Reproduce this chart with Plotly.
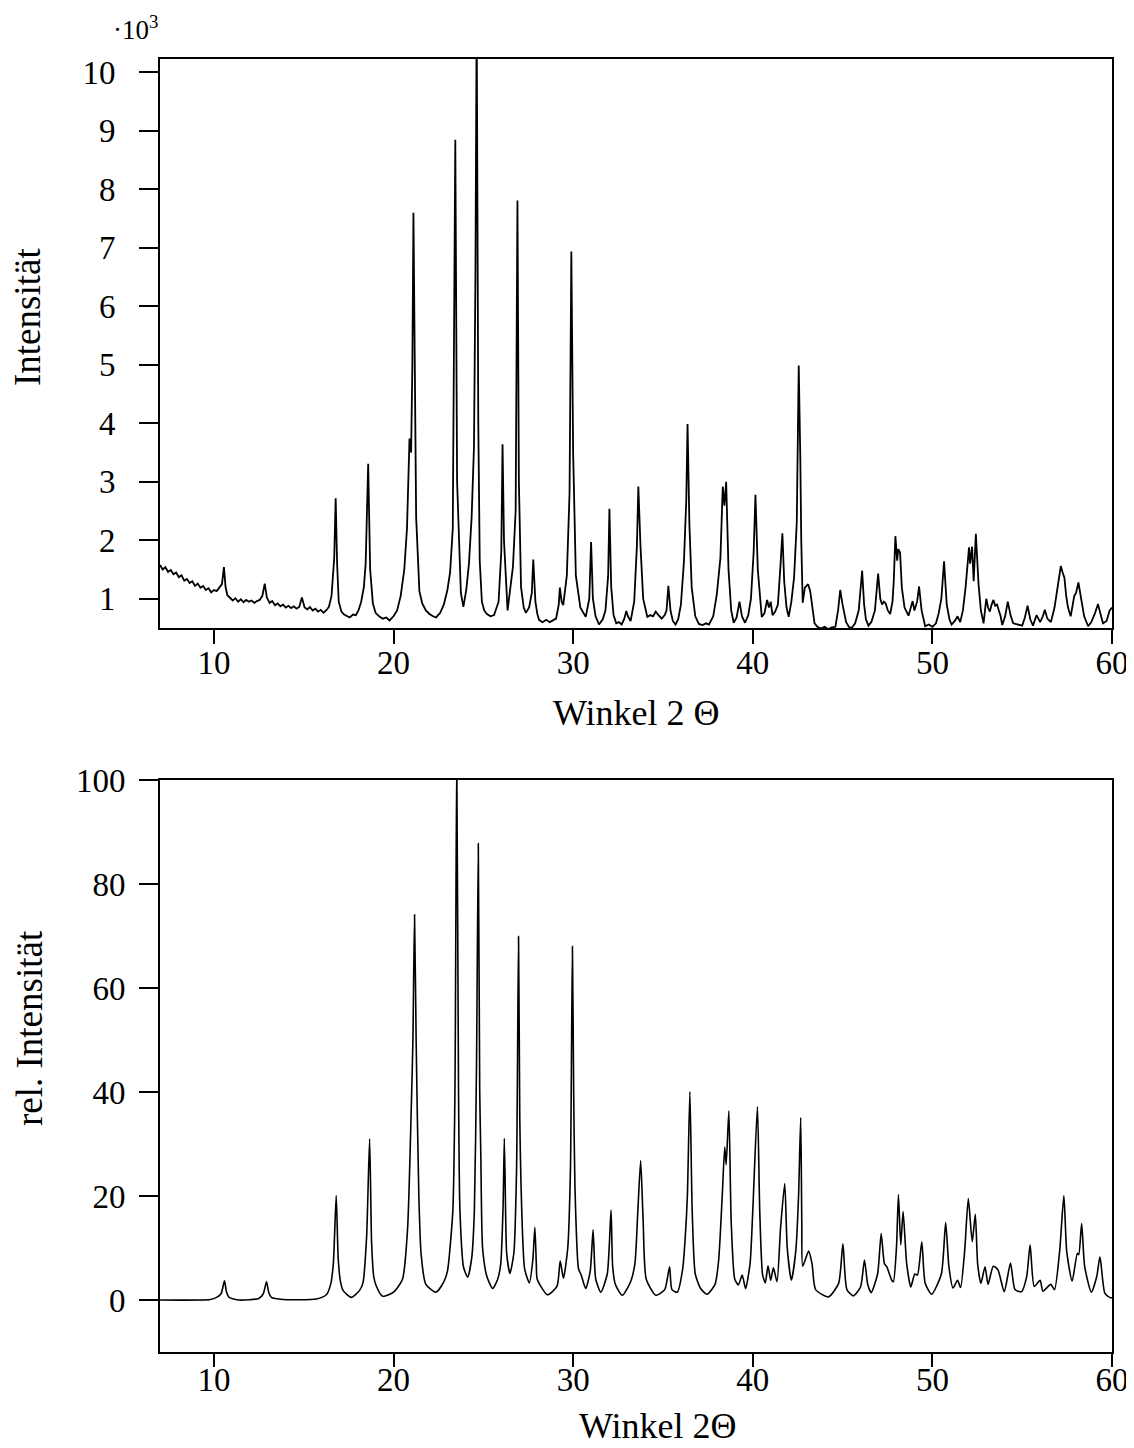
import plotly.graph_objects as go

# ---------------- data: top pattern (intensity in 10^3 counts) ----------------
top_x = [7.0, 7.15, 7.3, 7.45, 7.6, 7.75, 7.9, 8.05, 8.2, 8.35, 8.5, 8.65,
         8.8, 8.95, 9.1, 9.25, 9.4, 9.55, 9.7, 9.85, 10.0, 10.15, 10.3, 10.45,
         10.56, 10.65, 10.75, 10.9, 11.05, 11.2, 11.35, 11.5, 11.65, 11.8, 11.95, 12.1,
         12.25, 12.4, 12.55, 12.7, 12.83, 12.95, 13.1, 13.25, 13.4, 13.55, 13.7, 13.85,
         14.0, 14.15, 14.3, 14.45, 14.6, 14.75, 14.9, 15.05, 15.2, 15.35, 15.5, 15.65,
         15.8, 15.95, 16.1, 16.25, 16.4, 16.55, 16.7, 16.78, 16.86, 16.95, 17.1, 17.25,
         17.4, 17.56, 17.75, 17.9, 18.05, 18.2, 18.35, 18.45, 18.59, 18.7, 18.85, 19.0,
         19.2, 19.4, 19.6, 19.78, 20.0, 20.2, 20.4, 20.6, 20.75, 20.89, 20.98, 21.05,
         21.11, 21.18, 21.26, 21.44, 21.6, 21.8, 22.0, 22.2, 22.37, 22.6, 22.8, 23.0,
         23.15, 23.3, 23.44, 23.54, 23.63, 23.75, 23.89, 24.05, 24.2, 24.35, 24.48, 24.56,
         24.63, 24.72, 24.8, 24.92, 25.05, 25.2, 25.4, 25.6, 25.85, 26.0, 26.07, 26.15,
         26.35, 26.55, 26.65, 26.8, 26.9, 26.98, 27.1, 27.25, 27.37, 27.55, 27.7, 27.78,
         27.9, 28.0, 28.1, 28.3, 28.5, 28.7, 28.9, 29.05, 29.2, 29.26, 29.36, 29.45,
         29.65, 29.8, 29.9, 30.0, 30.15, 30.4, 30.7, 30.9, 31.0, 31.1, 31.25, 31.44,
         31.65, 31.8, 31.95, 32.02, 32.12, 32.25, 32.4, 32.55, 32.7, 32.85, 32.96, 33.05,
         33.2, 33.4, 33.55, 33.63, 33.75, 33.9, 34.13, 34.3, 34.45, 34.6, 34.75, 34.93,
         35.1, 35.2, 35.3, 35.42, 35.55, 35.7, 35.85, 36.0, 36.17, 36.3, 36.37, 36.47,
         36.6, 36.8, 37.0, 37.2, 37.4, 37.56, 37.8, 38.0, 38.2, 38.33, 38.42, 38.52,
         38.65, 38.8, 38.94, 39.1, 39.26, 39.4, 39.57, 39.75, 39.9, 40.05, 40.15, 40.28,
         40.5, 40.65, 40.8, 40.9, 41.0, 41.1, 41.25, 41.4, 41.55, 41.65, 41.75, 41.88,
         42.0, 42.15, 42.3, 42.45, 42.56, 42.61, 42.65, 42.7, 42.78, 42.9, 43.08, 43.2,
         43.32, 43.44, 43.6, 43.8, 44.0, 44.2, 44.4, 44.6, 44.75, 44.87, 45.0, 45.2,
         45.35, 45.5, 45.7, 45.9, 46.09, 46.2, 46.3, 46.44, 46.6, 46.8, 46.98, 47.1,
         47.2, 47.3, 47.4, 47.52, 47.65, 47.78, 47.85, 47.94, 48.04, 48.1, 48.2, 48.3,
         48.45, 48.67, 48.8, 48.9, 49.0, 49.15, 49.26, 49.4, 49.6, 49.8, 50.0, 50.2,
         50.35, 50.5, 50.65, 50.8, 50.95, 51.07, 51.25, 51.4, 51.55, 51.7, 51.85, 51.95,
         52.04, 52.1, 52.21, 52.3, 52.42, 52.57, 52.7, 52.85, 53.0, 53.1, 53.2, 53.3,
         53.4, 53.5, 53.6, 53.7, 53.8, 53.89, 54.05, 54.2, 54.35, 54.5, 54.75, 55.0,
         55.15, 55.3, 55.45, 55.6, 55.8, 56.0, 56.15, 56.26, 56.4, 56.6, 56.8, 56.95,
         57.05, 57.15, 57.25, 57.35, 57.45, 57.55, 57.7, 57.9, 58.0, 58.13, 58.2, 58.3,
         58.45, 58.67, 58.85, 59.05, 59.22, 59.35, 59.5, 59.7, 59.87, 60.0]
top_y = [1.58, 1.50, 1.54, 1.46, 1.49, 1.42, 1.45, 1.37, 1.40, 1.31, 1.34, 1.27,
         1.30, 1.22, 1.26, 1.19, 1.22, 1.15, 1.18, 1.11, 1.15, 1.13, 1.19, 1.25,
         1.54, 1.20, 1.06, 1.02, 0.97, 1.01, 0.95, 0.99, 0.94, 0.98, 0.95, 0.97,
         0.93, 0.96, 0.98, 1.05, 1.26, 1.02, 0.93, 0.96, 0.89, 0.92, 0.87, 0.90,
         0.85, 0.88, 0.84, 0.87, 0.83, 0.86, 1.02, 0.85, 0.82, 0.86, 0.80, 0.83,
         0.78, 0.81, 0.76, 0.80, 0.86, 1.05, 1.70, 2.72, 1.60, 0.95, 0.78, 0.73,
         0.70, 0.68, 0.73, 0.72, 0.80, 0.95, 1.20, 1.60, 3.31, 1.50, 0.92, 0.76,
         0.70, 0.66, 0.68, 0.63, 0.70, 0.80, 1.05, 1.50, 2.20, 3.74, 3.50, 5.00,
         7.60, 4.50, 2.40, 1.13, 0.92, 0.80, 0.74, 0.70, 0.68, 0.76, 0.90, 1.15,
         1.45, 2.20, 8.85, 3.00, 2.00, 1.10, 0.86, 1.15, 1.60, 2.40, 3.60, 6.50,
         11.0, 4.00, 1.65, 0.95, 0.80, 0.74, 0.70, 0.72, 0.95, 1.80, 3.64, 2.00,
         0.80, 1.30, 1.55, 2.50, 7.81, 3.00, 1.20, 0.85, 0.76, 0.85, 1.10, 1.67,
         0.95, 0.75, 0.64, 0.60, 0.64, 0.60, 0.63, 0.66, 0.90, 1.19, 0.95, 0.89,
         1.40, 2.80, 6.94, 3.50, 1.40, 0.85, 0.69, 1.00, 1.97, 1.00, 0.70, 0.56,
         0.65, 0.80, 1.40, 2.54, 1.20, 0.72, 0.58, 0.60, 0.56, 0.66, 0.79, 0.70,
         0.62, 0.95, 1.90, 2.92, 1.90, 1.00, 0.69, 0.72, 0.70, 0.78, 0.72, 0.66,
         0.72, 0.80, 1.22, 0.80, 0.62, 0.56, 0.65, 0.90, 1.64, 2.70, 3.99, 2.30,
         1.20, 0.70, 0.57, 0.55, 0.58, 0.56, 0.70, 1.08, 1.70, 2.92, 2.59, 3.00,
         1.50, 0.80, 0.59, 0.68, 0.95, 0.70, 0.59, 0.72, 1.00, 1.80, 2.78, 1.50,
         0.69, 0.75, 0.98, 0.85, 0.95, 0.72, 0.78, 0.90, 1.60, 2.12, 1.30, 0.85,
         0.69, 0.95, 1.36, 2.30, 4.99, 3.35, 3.35, 2.00, 0.93, 1.19, 1.25, 1.13,
         0.80, 0.58, 0.52, 0.49, 0.52, 0.48, 0.51, 0.52, 0.80, 1.15, 0.90, 0.60,
         0.52, 0.50, 0.58, 0.80, 1.48, 0.90, 0.65, 0.54, 0.60, 0.80, 1.43, 1.00,
         0.90, 0.95, 0.92, 0.80, 0.74, 0.95, 1.30, 2.07, 1.65, 1.85, 1.79, 1.19,
         0.85, 0.71, 0.85, 0.96, 0.80, 0.95, 1.21, 0.80, 0.53, 0.56, 0.52, 0.58,
         0.75, 1.00, 1.64, 0.90, 0.65, 0.56, 0.62, 0.70, 0.60, 0.80, 1.20, 1.60,
         1.88, 1.60, 1.89, 1.30, 2.11, 1.25, 0.80, 0.58, 1.00, 0.85, 0.78, 0.90,
         0.98, 0.88, 0.90, 0.80, 0.70, 0.55, 0.70, 0.95, 0.72, 0.58, 0.56, 0.54,
         0.68, 0.88, 0.65, 0.54, 0.72, 0.60, 0.70, 0.81, 0.66, 0.60, 0.85, 1.19,
         1.40, 1.56, 1.45, 1.36, 1.05, 0.85, 0.70, 1.05, 1.10, 1.28, 1.15, 0.96,
         0.70, 0.53, 0.60, 0.75, 0.91, 0.75, 0.58, 0.62, 0.80, 0.85]

# ---------------- data: bottom pattern (relative intensity, %) ----------------
bot_x = [7.0, 9.8, 10.15, 10.4, 10.59, 10.7, 10.85, 11.4, 12.5, 12.75, 12.93, 13.05, 13.2, 13.85,
         15.7, 16.26, 16.5, 16.65, 16.81, 16.92, 17.05, 17.2, 17.65, 18.1, 18.3, 18.5, 18.67, 18.78,
         18.9, 19.04, 19.4, 20.0, 20.5, 20.78, 20.98, 21.08, 21.17, 21.26, 21.41, 21.54, 21.8, 22.37,
         22.8, 23.0, 23.3, 23.42, 23.52, 23.62, 23.7, 23.9, 24.13, 24.35, 24.5, 24.62, 24.72, 24.8,
         24.86, 24.96, 25.2, 25.52, 25.8, 25.97, 26.1, 26.17, 26.25, 26.3, 26.48, 26.7, 26.85, 26.96,
         27.03, 27.1, 27.3, 27.56, 27.75, 27.87, 27.95, 28.0, 28.57, 29.1, 29.28, 29.46, 29.7, 29.85,
         29.96, 30.03, 30.1, 30.3, 30.45, 30.7, 30.95, 31.11, 31.2, 31.26, 31.54, 31.9, 32.11, 32.2,
         32.35, 32.74, 33.2, 33.44, 33.6, 33.76, 33.9, 34.07, 34.6, 35.1, 35.37, 35.5, 35.8, 36.1,
         36.24, 36.36, 36.5, 36.63, 36.8, 37.1, 37.46, 37.9, 38.1, 38.3, 38.44, 38.52, 38.67, 38.8,
         39.0, 39.2, 39.41, 39.6, 39.85, 40.0, 40.26, 40.39, 40.55, 40.7, 40.85, 41.0, 41.15, 41.35,
         41.55, 41.78, 41.92, 42.15, 42.4, 42.55, 42.67, 42.73, 42.78, 43.11, 43.3, 43.5, 44.22, 44.78,
         45.02, 45.24, 45.6, 46.0, 46.22, 46.4, 46.59, 46.95, 47.15, 47.33, 47.46, 47.74, 47.83, 48.0,
         48.11, 48.24, 48.37, 48.57, 48.8, 49.02, 49.17, 49.41, 49.6, 49.96, 50.5, 50.74, 50.92, 51.15,
         51.4, 51.57, 51.8, 52.0, 52.22, 52.39, 52.52, 52.7, 52.93, 53.1, 53.39, 53.65, 54.0, 54.35,
         54.6, 54.96, 55.25, 55.44, 55.67, 56.0, 56.15, 56.59, 56.8, 57.09, 57.32, 57.48, 57.78, 58.07,
         58.15, 58.31, 58.48, 58.85, 59.15, 59.33, 59.6, 59.87, 60.0]
bot_y = [0.0, 0.1, 0.5, 1.2, 3.7, 1.6, 0.5, 0.0, 0.3, 1.2, 3.5, 1.5, 0.5, 0.1,
         0.2, 1.0, 3.0, 7.0, 20.1, 8.0, 3.5, 1.8, 0.5, 1.8, 3.3, 12.0, 31.0, 11.0,
         4.5, 2.7, 0.7, 1.5, 4.0, 13.5, 35.7, 50.0, 74.1, 50.0, 20.0, 8.7, 3.0, 1.5,
         3.5, 5.5, 17.0, 40.0, 105.0, 40.0, 17.0, 6.3, 4.4, 8.0, 17.0, 45.0, 87.8, 40.0,
         28.0, 10.0, 4.5, 2.2, 4.0, 7.0, 18.0, 31.1, 15.0, 9.0, 5.1, 9.0, 25.0, 69.9,
         35.0, 22.0, 6.0, 3.3, 7.5, 14.0, 7.0, 4.0, 1.0, 2.6, 7.5, 4.2, 10.0, 25.0,
         68.0, 40.0, 22.0, 6.0, 4.8, 2.2, 5.5, 13.5, 6.5, 4.0, 1.5, 5.0, 17.3, 6.5,
         3.0, 0.9, 3.5, 7.0, 17.0, 26.8, 15.0, 4.0, 0.9, 2.0, 6.4, 2.0, 1.5, 6.0,
         12.0, 20.0, 40.1, 17.0, 5.0, 2.2, 1.1, 3.0, 7.6, 20.0, 29.4, 26.0, 36.4, 15.0,
         4.0, 2.9, 4.8, 2.2, 7.0, 17.0, 37.2, 17.0, 4.8, 3.3, 6.6, 3.8, 6.2, 3.5,
         14.0, 22.4, 10.0, 3.8, 9.6, 20.0, 35.1, 15.0, 6.5, 9.4, 7.0, 2.0, 0.6, 3.2,
         10.8, 2.0, 0.8, 2.5, 7.7, 3.0, 1.4, 5.0, 12.8, 7.0, 6.4, 3.8, 3.5, 10.0,
         20.3, 10.6, 17.0, 7.0, 2.5, 5.0, 4.8, 11.2, 3.2, 1.1, 5.0, 14.9, 6.4, 2.3,
         3.8, 2.4, 9.6, 19.5, 11.2, 16.5, 7.0, 3.2, 6.4, 3.0, 6.5, 5.8, 1.6, 7.1,
         2.0, 1.6, 4.5, 10.6, 2.6, 3.8, 1.7, 3.0, 2.0, 9.6, 20.1, 9.3, 3.6, 9.0,
         8.7, 14.7, 6.4, 1.5, 4.5, 8.3, 1.3, 0.5, 0.4]

x_ticks = [10, 20, 30, 40, 50, 60]
top_ticks = [1, 2, 3, 4, 5, 6, 7, 8, 9, 10]
bot_ticks = [0, 20, 40, 60, 80, 100]

FW, FH = 1126, 1448
OX, OY = 8.0, 8.0     # the page's body margin
FONT = "Liberation Serif, Times New Roman, serif"


def fx(p):
    return (p - OX) / FW


def fy(p):
    return 1 - (p - OY) / FH


fig = go.Figure()
fig.add_trace(go.Scatter(x=top_x, y=top_y, mode="lines", line=dict(color="black", width=1.8),
                         xaxis="x", yaxis="y", showlegend=False))
fig.add_trace(go.Scatter(x=bot_x, y=bot_y, mode="lines",
                         line=dict(color="black", width=1.6, shape="spline", smoothing=0.6),
                         xaxis="x2", yaxis="y2", showlegend=False))

xdom = [fx(160), fx(1112)]
common_axis = dict(showline=True, linecolor="black", linewidth=1.6, mirror=True, showgrid=False,
                   zeroline=False, ticks="outside", tickcolor="black", tickwidth=1.6,
                   automargin=False,
                   tickfont=dict(family=FONT, size=33, color="black"))

fig.update_layout(
    width=FW, height=FH,
    margin=dict(l=0, r=0, t=0, b=0, pad=0),
    paper_bgcolor="white", plot_bgcolor="white",
    font=dict(family=FONT, color="black"),
    xaxis=dict(domain=xdom, range=[7, 60], tickvals=x_ticks, ticklen=14, anchor="y",
               ticklabelstandoff=-9, ticklabeloverflow="allow", **common_axis),
    yaxis=dict(domain=[fy(628), fy(59)], range=[0.5, 10.23], tickvals=top_ticks, ticklen=19,
               anchor="x", ticklabelstandoff=17, **common_axis),
    xaxis2=dict(domain=xdom, range=[7, 60], tickvals=x_ticks, ticklen=13, anchor="y2",
                ticklabelstandoff=-15, ticklabeloverflow="allow", **common_axis),
    yaxis2=dict(domain=[fy(1352), fy(780)], range=[-10, 100], tickvals=bot_ticks, ticklen=19,
                anchor="x2", ticklabelstandoff=7, **common_axis),
)

ann_font = dict(family=FONT, size=36, color="black")
fig.add_annotation(text="Intensität", x=fx(27), y=fy(317), xref="paper", yref="paper",
                   textangle=-90, showarrow=False, xanchor="center", yanchor="middle",
                   borderpad=0, font=dict(family=FONT, size=37, color="black"))
fig.add_annotation(text="rel. Intensität", x=fx(29), y=fy(1028), xref="paper", yref="paper",
                   textangle=-90, showarrow=False, xanchor="center", yanchor="middle",
                   borderpad=0, font=dict(family=FONT, size=37, color="black"))
fig.add_annotation(text="Winkel 2 Θ", x=fx(636), y=fy(713), xref="paper", yref="paper",
                   showarrow=False, xanchor="center", yanchor="middle", font=ann_font)
fig.add_annotation(text="Winkel 2Θ", x=fx(658), y=fy(1426), xref="paper", yref="paper",
                   showarrow=False, xanchor="center", yanchor="middle", font=ann_font)
fig.add_annotation(text="·10<sup>3</sup>", x=fx(111), y=fy(28), xref="paper", yref="paper",
                   showarrow=False, xanchor="left", yanchor="middle",
                   font=dict(family=FONT, size=27, color="black"))

fig.write_html("out.html")
